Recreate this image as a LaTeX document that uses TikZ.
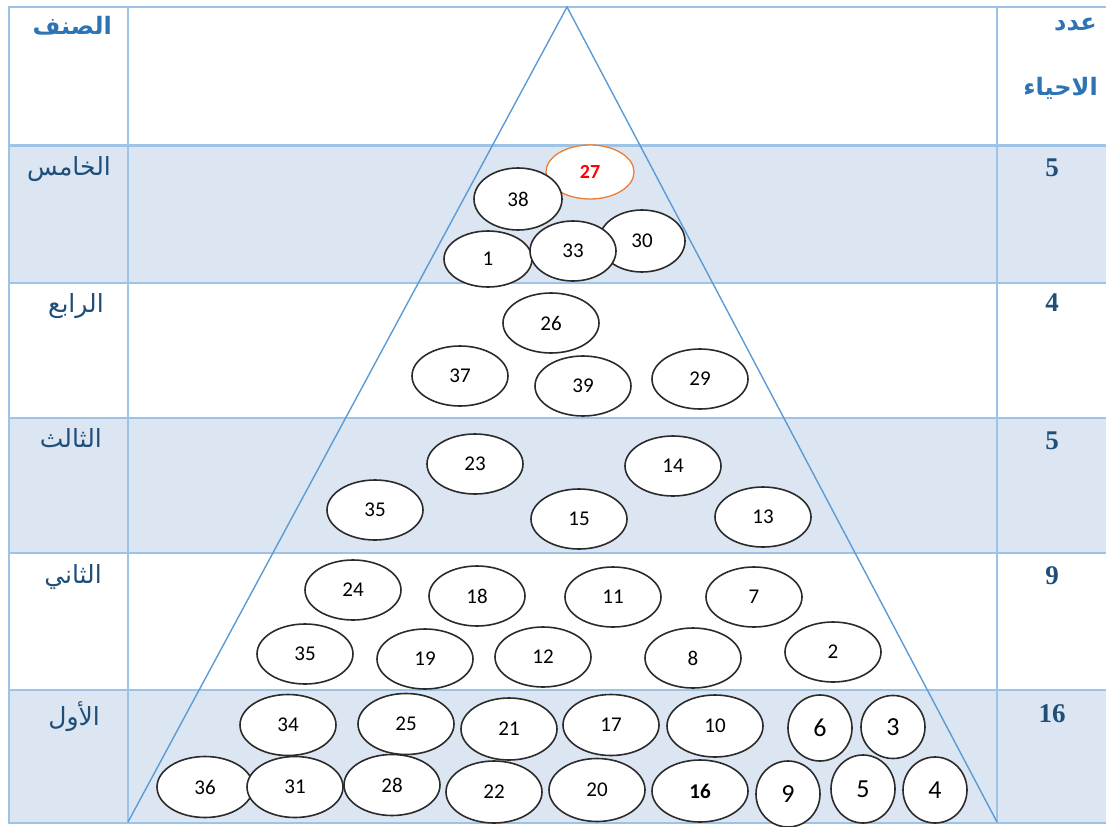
\documentclass[tikz,border=0pt]{standalone}
\usepackage{fontspec}
\usetikzlibrary{shapes.geometric}
\TeXXeTstate=1
\newfontfamily\arabicfont[Script=Arabic]{DejaVu Sans}
\newfontfamily\numfont{Carlito}
\newfontfamily\serifnum{Liberation Serif}
\definecolor{gridblue}{HTML}{9DC3E6}
\definecolor{triblue}{HTML}{5B9BD5}
\definecolor{rowshade}{HTML}{DCE6F2}
\definecolor{hdrblue}{HTML}{2E74B5}
\definecolor{lblblue}{HTML}{1F4E79}
\definecolor{ringgray}{HTML}{2B2B2B}
\definecolor{orangering}{HTML}{ED7D31}
\begin{document}
\begin{tikzpicture}[x=1pt,y=-1pt,
  ell/.style={ellipse, draw=ringgray, fill=white, line width=1.6pt, minimum width=96pt, minimum height=60pt, inner sep=0pt, font=\numfont\fontsize{21}{21}\selectfont},
  circ/.style={ellipse, draw=ringgray, fill=white, line width=1.6pt, minimum width=64pt, minimum height=66pt, inner sep=0pt, font=\numfont\fontsize{26}{26}\selectfont},
  grid/.style={draw=gridblue, line width=1.4pt},
  rowlbl/.style={anchor=north east, inner sep=0pt, text=lblblue, font=\arabicfont\fontsize{25}{25}\selectfont},
  hdrlbl/.style={anchor=north east, inner sep=0pt, text=hdrblue, font=\arabicfont\bfseries\fontsize{24}{24}\selectfont},
  cnt/.style={anchor=center, inner sep=0pt, text=lblblue, font=\serifnum\bfseries\fontsize{27}{27}\selectfont}]
\useasboundingbox (0,0) rectangle (1106,827);
% shading
\fill[rowshade] (9,145) rectangle (1106,283);
\fill[rowshade] (9,418) rectangle (1106,553);
\fill[rowshade] (9,690) rectangle (1106,823);
% grid
\draw[grid] (1106,7) -- (9,7) -- (9,823) -- (1106,823);
\draw[grid] (128,7) -- (128,823);
\draw[grid] (997,7) -- (997,823);
\draw[grid, line width=3pt] (9,145) -- (1106,145);
\foreach \yy in {283,418,553,690} \draw[grid] (9,\yy) -- (1106,\yy);
% triangle
\coordinate (apex) at (567,7);
\coordinate (bl) at (128,822);
\coordinate (br) at (997,822);
\draw[triblue, line width=1.4pt] (bl) -- (apex) -- (br);
% left labels
\node[hdrlbl] (hclass) at (112,16) {\beginR الصنف\endR};
\node[rowlbl] (l5) at (111,156) {\beginR الخامس\endR};
\node[rowlbl] (l4) at (104,293) {\beginR الرابع\endR};
\node[rowlbl] (l3) at (102,428) {\beginR الثالث\endR};
\node[rowlbl] (l2) at (102,564) {\beginR الثاني\endR};
\node[rowlbl] (l1) at (100,701) {\beginR الأول\endR};
% right labels
\node[hdrlbl] (hcount1) at (1097,18) {\beginR عدد\endR};
\node[hdrlbl] (hcount2) at (1098,77) {\beginR الاحياء\endR};
\node[cnt] (c5) at (1052,168) {5};
\node[cnt] (c4) at (1052,303) {4};
\node[cnt] (c3) at (1052,441) {5};
\node[cnt] (c2) at (1052,576) {9};
\node[cnt] (c1) at (1052,714) {16};
% row 5
\node[ell, draw=orangering, line width=1.3pt, minimum width=88pt, minimum height=54pt, text=red, font=\numfont\bfseries\fontsize{20}{20}\selectfont] (e27) at (590,172) {27};
\node[ell, minimum width=86pt, minimum height=62pt] (e30) at (642,241) {30};
\node[ell, minimum width=88pt, minimum height=62pt] (e38) at (518,199) {38};
\node[ell, minimum width=88pt, minimum height=56pt] (e1) at (488,259) {1};
\node[ell, minimum width=86pt, minimum height=60pt] (e33) at (573,251) {33};
% row 4
\node[ell] (e26) at (551,323) {26};
\node[ell] (e37) at (460,376) {37};
\node[ell] (e39) at (583,386) {39};
\node[ell] (e29) at (700,379) {29};
% row 3
\node[ell] (e23) at (475,464) {23};
\node[ell] (e14) at (673,466) {14};
\node[ell] (e35a) at (375,510) {35};
\node[ell] (e15) at (579,519) {15};
\node[ell] (e13) at (763,517) {13};
% row 2
\node[ell] (e24) at (353,590) {24};
\node[ell] (e18) at (477,596) {18};
\node[ell] (e11) at (613,597) {11};
\node[ell] (e7) at (754,597) {7};
\node[ell] (e35b) at (305,654) {35};
\node[ell] (e19) at (425,659) {19};
\node[ell] (e12) at (543,657) {12};
\node[ell] (e8) at (693,658) {8};
\node[ell] (e2) at (833,652) {2};
% row 1
\node[ell, minimum height=61pt] (e34) at (288,725) {34};
\node[ell, minimum height=61pt] (e25) at (406,724) {25};
\node[ell, minimum height=62pt] (e21) at (509,729) {21};
\node[ell, minimum height=61pt] (e17) at (611,725) {17};
\node[ell, minimum height=62pt] (e10) at (715,726) {10};
\node[ell, minimum height=61pt] (e36) at (205,787) {36};
\node[ell, minimum height=61pt] (e31) at (295,787) {31};
\node[ell, minimum height=61pt] (e28) at (392,785) {28};
\node[ell, minimum height=62pt] (e22) at (494,792) {22};
\node[ell, minimum height=63pt] (e20) at (597,790) {20};
\node[ell, minimum height=62pt, font=\numfont\bfseries\fontsize{21}{21}\selectfont] (e16) at (700,791) {16};
\node[circ] (e6) at (820,728) {6};
\node[circ, minimum height=63pt] (e3) at (893,727) {3};
\node[circ] (e9) at (788,794) {9};
\node[circ, minimum height=68pt] (e5) at (863,789) {5};
\node[circ] (e4) at (935,790) {4};
\end{tikzpicture}
\end{document}
